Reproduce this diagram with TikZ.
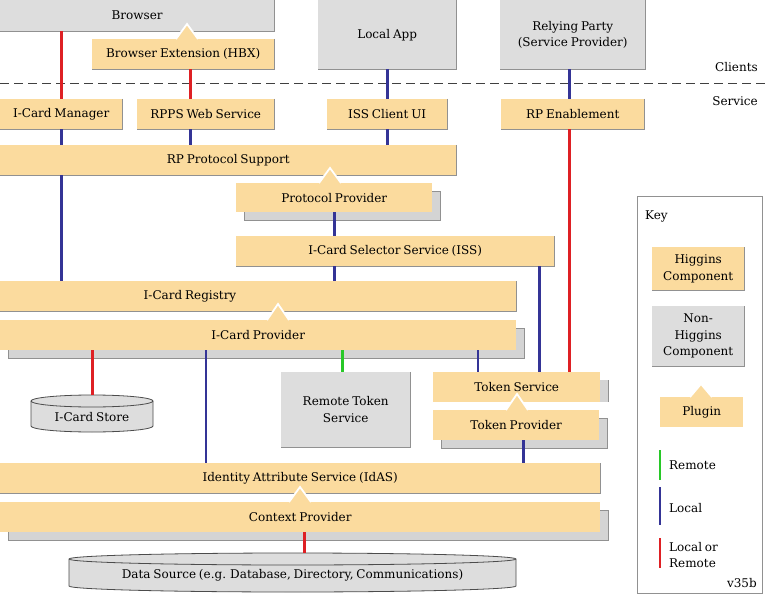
\documentclass[tikz,border=0pt]{standalone}
\usepackage{fontspec}
\setmainfont{DejaVu Serif}[WordSpace=0.75]
\usetikzlibrary{shadows}
\definecolor{higc}{RGB}{251,219,158}
\definecolor{grayc}{RGB}{221,221,221}
\definecolor{shadc}{RGB}{212,212,212}
\definecolor{edgec}{RGB}{145,145,145}
\definecolor{redc}{RGB}{222,32,36}
\definecolor{bluec}{RGB}{52,52,150}
\definecolor{greenc}{RGB}{40,200,40}
\newcommand\mainfnt{\fontsize{12}{16.5}\selectfont}
\newcommand\rbedge[1]{\draw[edgel] (#1.north east) -- (#1.south east) -- (#1.south west);}
\newcommand\plugnotch[3]{\filldraw[notch] (#1-11,#3) -- (#1,#2) -- (#1+11,#3);}
\tikzset{
 base/.style={rectangle, inner sep=0pt, anchor=north west, align=center, font=\mainfnt},
 higgins/.style={base, fill=higc},
 nonhig/.style={base, fill=grayc},
 shd/.style={drop shadow={shadow xshift=8pt, shadow yshift=-8pt, fill=shadc, draw=edgec, line width=0.8pt, opacity=1}},
 redl/.style={draw=redc, line width=2.8pt},
 bluel/.style={draw=bluec, line width=2.8pt},
 greenl/.style={draw=greenc, line width=2.8pt},
 edgel/.style={draw=edgec, line width=0.9pt},
 notch/.style={fill=higc, draw=white, line width=1.8pt, line join=miter},
 cylst/.style={fill=grayc, draw=black!70, line width=0.8pt},
 txt/.style={inner sep=0pt, font=\mainfnt, align=left},
 dashline/.style={draw=black!75, line width=1pt, dash pattern=on 9pt off 5pt},
}
\begin{document}
\begin{tikzpicture}[x=1pt,y=-1pt]
\useasboundingbox (0,0) rectangle (766,599);
\fill[white] (0,0) rectangle (766,599);

% clients
\node[nonhig, minimum width=274pt, minimum height=31pt] (browser) at (0,0) {Browser};
\rbedge{browser}
\node[higgins, minimum width=182pt, minimum height=30pt] (hbx) at (92,39) {Browser Extension (HBX)};
\rbedge{hbx}
\plugnotch{187}{24}{39}
\node[nonhig, minimum width=138pt, minimum height=69pt] (localapp) at (318,0) {Local App};
\rbedge{localapp}
\node[nonhig, minimum width=145pt, minimum height=69pt] (rp) at (500,0) {\raisebox{0pt}{Relying Party}\\(Service Provider)};
\rbedge{rp}

\draw[dashline] (0,84) -- (766,84);
\node[txt, anchor=east] (clients) at (758,67) {Clients};
\node[txt, anchor=east] (service) at (758,101) {Service};

% service row
\node[higgins, minimum width=122pt, minimum height=30pt] (icm) at (0,99) {I-Card Manager};
\rbedge{icm}
\node[higgins, minimum width=137pt, minimum height=30pt] (rpps) at (137,99) {RPPS Web Service};
\rbedge{rpps}
\node[higgins, minimum width=120pt, minimum height=30pt] (issui) at (327,99) {ISS Client UI};
\rbedge{issui}
\node[higgins, minimum width=143pt, minimum height=30pt] (rpe) at (501,99) {RP Enablement};
\rbedge{rpe}

\node[higgins, minimum width=456pt, minimum height=30pt] (rpp) at (0,145) {RP Protocol Support};
\rbedge{rpp}
\node[higgins, shd, minimum width=196pt, minimum height=29pt] (pp) at (236,183) {Protocol Provider};
\plugnotch{330}{168}{183}
\node[higgins, minimum width=318pt, minimum height=30pt] (iss) at (236,236) {I-Card Selector Service (ISS)};
\rbedge{iss}
\node[higgins, minimum width=516pt, minimum height=30pt] (reg) at (0,281) {};
\rbedge{reg}
\node[txt] (regtext) at (190,296) {I-Card Registry};
\node[higgins, shd, minimum width=516pt, minimum height=30pt] (icp) at (0,320) {I-Card Provider};
\plugnotch{278}{304}{320}

% I-Card Store cylinder
\filldraw[cylst] (31,401) -- (31,426) arc[start angle=180,end angle=360,x radius=61pt,y radius=6pt] -- (153,401) arc[start angle=0,end angle=180,x radius=61pt,y radius=6pt] -- cycle;
\draw[cylst, fill=none] (31,401) arc[start angle=180,end angle=360,x radius=61pt,y radius=6pt];
\node[base, minimum width=122pt, minimum height=37pt] (store) at (31,395) {};
\node[txt] (storetext) at (92,417) {I-Card Store};

\node[nonhig, minimum width=129pt, minimum height=75pt] (rts) at (281,372) {Remote Token\\Service};
\rbedge{rts}

\fill[shadc] (600,380) rectangle (608,402);
\draw[edgel] (608,380) -- (608,402);
\node[higgins, minimum width=167pt, minimum height=30pt] (ts) at (433,372) {Token Service};
\node[higgins, shd, minimum width=166pt, minimum height=30pt] (tp) at (433,410) {Token Provider};
\plugnotch{517}{394}{410}

\node[higgins, minimum width=600pt, minimum height=30pt] (idas) at (0,463) {Identity Attribute Service (IdAS)};
\rbedge{idas}
\node[higgins, shd, minimum width=600pt, minimum height=30pt] (cp) at (0,502) {Context Provider};
\plugnotch{300}{487}{502}

% Data source cylinder
\filldraw[cylst] (69,559) -- (69,586) arc[start angle=180,end angle=360,x radius=223.5pt,y radius=6pt] -- (516,559) arc[start angle=0,end angle=180,x radius=223.5pt,y radius=6pt] -- cycle;
\draw[cylst, fill=none] (69,559) arc[start angle=180,end angle=360,x radius=223.5pt,y radius=6pt];
\node[base, minimum width=447pt, minimum height=39pt] (ds) at (69,553) {};
\node[txt] (dstext) at (292.5,575) {Data Source (e.g. Database, Directory, Communications)};

% connectors
\draw[redl] (icm.north) -- (icm.north |- browser.south);
\draw[redl] ([xshift=7pt]hbx.south) -- ([xshift=7pt]hbx.south |- rpps.north);
\draw[bluel] (localapp.south) -- (issui.north);
\draw[bluel] ([xshift=-3.5pt]rp.south) -- ([xshift=-3.5pt]rpe.north);
\draw[bluel] (icm.south) -- (icm.south |- rpp.north);
\draw[bluel] ([xshift=7pt]hbx.south |- rpps.south) -- ([xshift=7pt]hbx.south |- rpp.north);
\draw[bluel] (issui.south) -- (issui.south |- rpp.north);
\draw[bluel] (icm.south |- rpp.south) -- (icm.south |- reg.north);
\draw[bluel] (pp.south) -- (pp.south |- iss.north);
\draw[bluel] (pp.south |- iss.south) -- (pp.south |- reg.north);
\draw[bluel] ([xshift=-15pt]iss.south east) -- ([xshift=-15pt]iss.south east |- ts.north);
\draw[redl] ([xshift=-3.5pt]rpe.south) -- ([xshift=-3.5pt]rpe.south |- ts.north);
\draw[redl] (store.north |- icp.south) -- (store.north);
\draw[bluel] ([xshift=206pt]icp.south west) -- ([xshift=206pt]icp.south west |- idas.north);
\draw[greenl] ([xshift=-3.5pt]rts.north |- icp.south) -- ([xshift=-3.5pt]rts.north);
\draw[bluel] ([xshift=45pt]ts.north west |- icp.south) -- ([xshift=45pt]ts.north west);
\draw[bluel] ([xshift=7pt]tp.south) -- ([xshift=7pt]tp.south |- idas.north);
\draw[redl] ([xshift=4pt]cp.south) -- ([xshift=4pt]cp.south |- ds.north);

% key
\draw[edgel] (637,196) rectangle (762,593);
\node[txt, anchor=west] (keyt) at (645,216) {Key};
\node[higgins, minimum width=92pt, minimum height=43pt] (khig) at (652,247) {Higgins\\Component};
\rbedge{khig}
\node[nonhig, minimum width=92pt, minimum height=60pt] (knon) at (652,306) {Non-\\Higgins\\Component};
\rbedge{knon}
\node[higgins, minimum width=83pt, minimum height=30pt] (kplug) at (660,397) {Plugin};
\plugnotch{701}{384}{397}
\coordinate (g1) at (660,450); \coordinate (g2) at (660,480);
\coordinate (b1) at (660,487); \coordinate (b2) at (660,525);
\coordinate (r1) at (660,538); \coordinate (r2) at (660,568);
\draw[greenl] (g1) -- (g2);
\draw[bluel] (b1) -- (b2);
\draw[redl] (r1) -- (r2);
\node[txt, anchor=west] (kremote) at (669,465) {Remote};
\node[txt, anchor=west] (klocal) at (669,508) {Local};
\node[txt, anchor=west] (klr) at (669,555) {Local or\\Remote};
\node[txt, anchor=east] (ver) at (757,583) {v35b};
\end{tikzpicture}
\end{document}
